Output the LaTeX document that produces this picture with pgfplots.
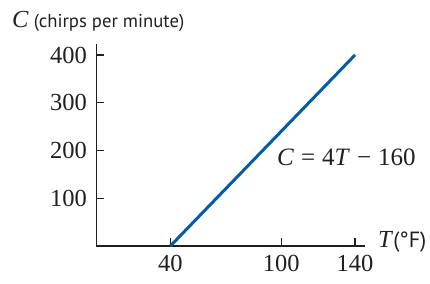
\documentclass[border=0pt]{standalone}
\usepackage{pgfplots}
\pgfplotsset{compat=1.18}
\usepackage{fontspec}
\setmainfont{Liberation Serif}
\setsansfont{PT Sans}
\definecolor{axisgray}{RGB}{35,31,32}
\definecolor{lineblue}{RGB}{0,92,172}
\begin{document}
\begin{tikzpicture}[x=1bp,y=1bp]
\useasboundingbox (-96.5,-38) rectangle (333.5,246);
\begin{axis}[
  at={(0,0)}, anchor=south west,
  scale only axis,
  width=268.5bp, height=202bp,
  xmin=0, xmax=145.4, ymin=0, ymax=423,
  axis lines=left,
  axis line style={-, line width=1.5bp, draw=axisgray},
  tick align=inside,
  major tick length=8bp,
  tick style={line width=1.3bp, draw=axisgray},
  xtick={40,100,140},
  ytick={100,200,300,400},
  /pgf/number format/assume math mode=true,
  ticklabel style={font=\fontsize{24.5bp}{28bp}\selectfont, text=axisgray},
  xticklabel style={yshift=-6bp},
  yticklabel style={xshift=-6bp},
  clip=false,
]
\addplot[lineblue, line width=3bp] coordinates {(40,0) (140,400)};
\end{axis}
\node[anchor=base west, inner sep=0, text=axisgray] at (-84.5,219)
  {\fontsize{24.5bp}{28bp}\selectfont\textit{C}\hspace{5bp}\sffamily\fontsize{18.7bp}{22bp}\selectfont(chirps per minute)};
\node[anchor=base west, inner sep=0, text=axisgray] at (281.5,-1)
  {\fontsize{24.5bp}{28bp}\selectfont\textit{T}\sffamily\fontsize{22bp}{24bp}\selectfont(°F)};
\node[anchor=base west, inner sep=0, text=axisgray] at (180.5,81)
  {\fontsize{25bp}{28bp}\selectfont\textit{C}\hspace{7bp}=\hspace{7bp}4\textit{T}\hspace{7bp}−\hspace{7bp}160};
\end{tikzpicture}
\end{document}
